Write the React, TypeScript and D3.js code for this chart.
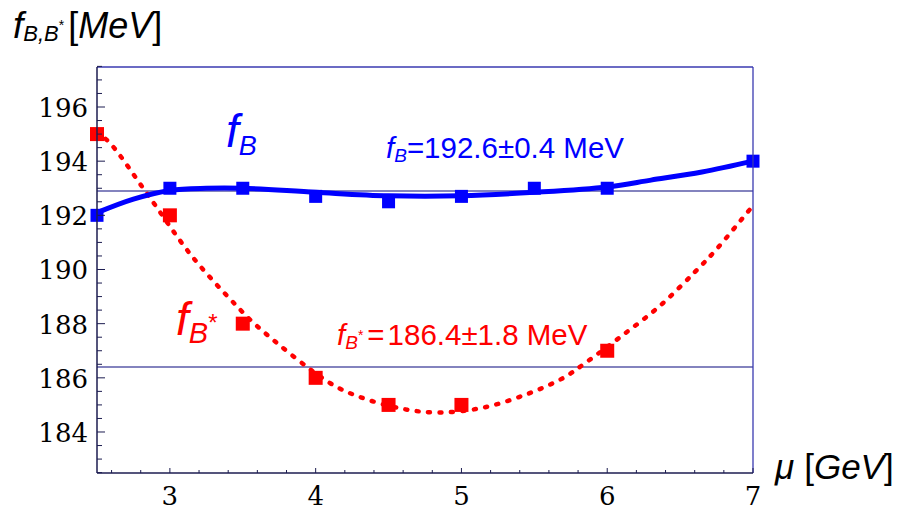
import React from "react";
import * as d3 from "d3";

// measured points (squares)
const muPoints = [2.5, 3, 3.5, 4, 4.5, 5, 5.5, 6, 7];
const fB = [192, 193, 193, 192.7, 192.5, 192.7, 193, 193, 194];
const muStar = [2.5, 3, 3.5, 4, 4.5, 5, 6];
const fBStar = [195, 192, 188, 186, 185, 185, 187];

// fitted curves
const fitMuB = [2.5, 2.75, 3, 3.25, 3.5, 4, 4.5, 5, 5.5, 6, 6.3, 6.65, 7];
const fitB = [192.1, 192.6, 192.92, 193.0, 193.0, 192.85, 192.72, 192.72, 192.85, 193.05, 193.3, 193.6, 194.0];
const fitMuStar = [2.5, 2.6, 2.85, 3.15, 3.45, 3.6, 4.1, 4.3, 4.6, 4.85, 5.15, 5.45, 5.7, 5.85, 6.1, 6.36, 6.6, 6.75, 6.96, 7];
const fitStar = [195.1, 194.6, 192.75, 190.5, 188.7, 187.9, 185.8, 185.3, 184.85, 184.72, 184.9, 185.4, 186.0, 186.55, 187.55, 188.65, 189.9, 190.75, 192.1, 192.35];

const avgB = 192.9;
const avgStar = 186.4;

const xTicksMajor = [3, 4, 5, 6, 7];
const yTicksMajor = [184, 186, 188, 190, 192, 194, 196];

const W = 912;
const H = 512;
const left = 97, right = 753, top = 67, bottom = 473;

export default function App() {
  const x = d3.scaleLinear().domain([2.5, 7]).range([left, right]);
  const y = d3.scaleLinear().domain([182.486, 197.477]).range([bottom, top]);

  const xMinor = d3.range(2.6, 7.0001, 0.2);
  const yMinor = d3.range(182.5, 197.5001, 0.5);

  const line = d3
    .line<[number, number]>()
    .x((d) => x(d[0]))
    .y((d) => y(d[1]))
    .curve(d3.curveCatmullRom.alpha(0.5));

  const blueLine = line(fitMuB.map((m, i) => [m, fitB[i]]));
  const redLine = line(fitMuStar.map((m, i) => [m, fitStar[i]]));

  const serif = "'DejaVu Serif', 'Liberation Serif', 'Times New Roman', serif";
  const sans = "Liberation Sans, Arial, sans-serif";
  const blue = "#0000ff";
  const red = "#ff0000";

  return (
    <svg width={W} height={H} style={{ position: "absolute", left: 0, top: 0, background: "#fff" }}>
      {/* average lines */}
      <line x1={left} x2={right} y1={y(avgB)} y2={y(avgB)} stroke="#5a5aa8" strokeWidth={1.5} />
      <line x1={left} x2={right} y1={y(avgStar)} y2={y(avgStar)} stroke="#5a5aa8" strokeWidth={1.5} />

      {/* curves */}
      <path d={redLine || ""} fill="none" stroke={red} strokeWidth={4.5} strokeDasharray="2 9.5" strokeLinecap="round" />
      <path d={blueLine || ""} fill="none" stroke={blue} strokeWidth={5} />

      {/* squares */}
      {muStar.map((m, i) => (
        <rect key={"r" + i} x={x(m) - 7} y={y(fBStar[i]) - 7} width={14} height={14} fill={red} />
      ))}
      {muPoints.map((m, i) => (
        <rect key={"b" + i} x={x(m) - 6.5} y={y(fB[i]) - 6.5} width={13} height={13} fill={blue} />
      ))}

      {/* frame */}
      <line x1={left} x2={right} y1={top} y2={top} stroke="#3a3ab0" strokeWidth={1.3} />
      <line x1={right} x2={right} y1={top} y2={bottom} stroke="#3a3ab0" strokeWidth={1.3} />
      <line x1={left} x2={left} y1={top} y2={bottom} stroke="#1c1c50" strokeWidth={1.5} />
      <line x1={left} x2={right} y1={bottom} y2={bottom} stroke="#1c1c50" strokeWidth={1.5} />

      {/* x ticks */}
      {xMinor.map((v, i) => {
        const major = Math.abs(v - Math.round(v)) < 0.01;
        return (
          <line key={"xt" + i} x1={x(v)} x2={x(v)} y1={bottom} y2={bottom - (major ? 5 : 3)} stroke="#1c1c50" strokeWidth={1} />
        );
      })}
      {xTicksMajor.map((v) => (
        <text key={"xl" + v} x={x(v)} y={505} textAnchor="middle" style={{ fontFamily: serif }} fontSize={26} fill="#000">
          {v}
        </text>
      ))}

      {/* y ticks */}
      {yMinor.map((v, i) => {
        const major = Math.abs(v / 2 - Math.round(v / 2)) < 0.01;
        return (
          <line key={"yt" + i} x1={left} x2={left + (major ? 8 : 5)} y1={y(v)} y2={y(v)} stroke="#1c1c50" strokeWidth={1} />
        );
      })}
      {yTicksMajor.map((v) => (
        <text key={"yl" + v} x={88} y={y(v) + 10} textAnchor="end" style={{ fontFamily: serif }} fontSize={26} fill="#000">
          {v}
        </text>
      ))}

      {/* axis titles */}
      <text x={13} y={38} style={{ fontFamily: sans }} fontSize={37} fill="#000">
        <tspan fontStyle="italic">f</tspan>
        <tspan fontStyle="italic" fontSize={22} dy={3}>B,B</tspan>
        <tspan fontSize={14} dy={-11}>*</tspan>
        <tspan fontSize={36} dy={8} dx={4}>[</tspan>
        <tspan fontSize={36} fontStyle="italic">MeV</tspan>
        <tspan fontSize={36}>]</tspan>
      </text>
      <text x={775} y={479} style={{ fontFamily: sans }} fontSize={35} fill="#000">
        <tspan fontStyle="italic">μ</tspan>
        <tspan dx={10}>[</tspan>
        <tspan fontStyle="italic">GeV</tspan>
        <tspan>]</tspan>
      </text>

      {/* curve labels */}
      <text x={226} y={147} style={{ fontFamily: sans }} fontStyle="italic" fontSize={46} fill={blue}>
        f<tspan fontSize={27} dy={8}>B</tspan>
      </text>
      <text x={176} y={335} style={{ fontFamily: sans }} fontStyle="italic" fontSize={46} fill={red}>
        f<tspan fontSize={29} dy={8}>B</tspan>
        <tspan fontSize={24} dy={-12} fontStyle="normal">*</tspan>
      </text>

      {/* annotations */}
      <text x={386} y={158} style={{ fontFamily: sans }} fontSize={29.5} fill={blue}>
        <tspan fontStyle="italic">f</tspan>
        <tspan fontStyle="italic" fontSize={19} dy={4}>B</tspan>
        <tspan dy={-4}>=192.6±0.4 MeV</tspan>
      </text>
      <text x={337} y={345} style={{ fontFamily: sans }} fontSize={29.5} fill={red}>
        <tspan fontStyle="italic">f</tspan>
        <tspan fontStyle="italic" fontSize={19} dy={4}>B</tspan>
        <tspan fontSize={14} dy={-9}>*</tspan>
        <tspan dy={5} dx={4}>=</tspan>
        <tspan dx={3}>186.4±1.8 MeV</tspan>
      </text>
    </svg>
  );
}
